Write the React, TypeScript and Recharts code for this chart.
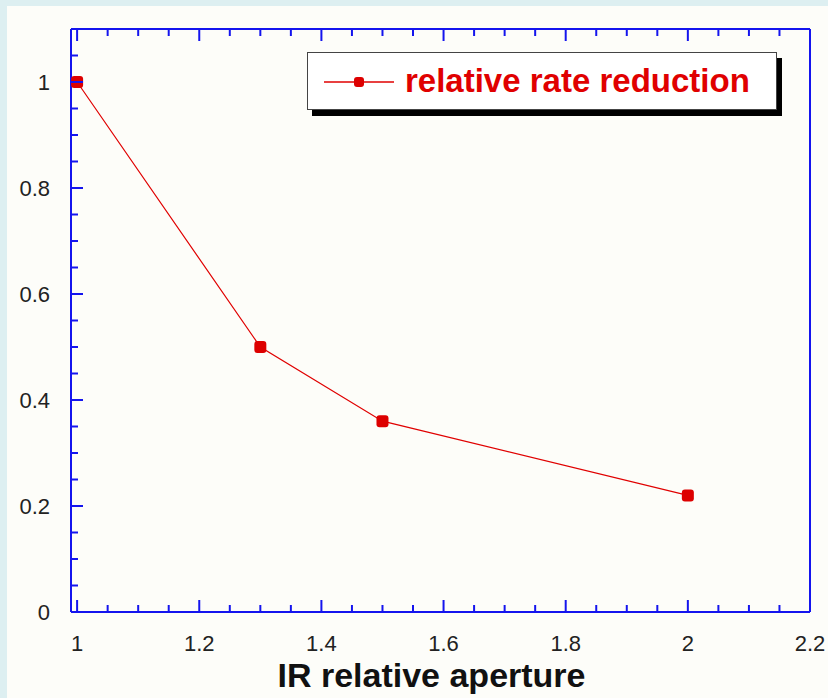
import React from 'react';
import { LineChart, Line, XAxis, YAxis, Legend } from 'recharts';

// measured points
const APERTURE = [1, 1.3, 1.5, 2];
const RATE_REDUCTION = [1.0, 0.5, 0.36, 0.22];
const SERIES_NAME = 'relative rate reduction';
const X_TITLE = 'IR relative aperture';

const X_TICKS = [
  1, 1.05, 1.1, 1.15, 1.2, 1.25, 1.3, 1.35, 1.4, 1.45, 1.5, 1.55, 1.6,
  1.65, 1.7, 1.75, 1.8, 1.85, 1.9, 1.95, 2, 2.05, 2.1, 2.15, 2.2,
];
const X_LABELS = [1, 1.2, 1.4, 1.6, 1.8, 2, 2.2];
const Y_TICKS = [
  0, 0.05, 0.1, 0.15, 0.2, 0.25, 0.3, 0.35, 0.4, 0.45, 0.5, 0.55, 0.6,
  0.65, 0.7, 0.75, 0.8, 0.85, 0.9, 0.95, 1, 1.05, 1.1,
];
const Y_LABELS = [0, 0.2, 0.4, 0.6, 0.8, 1];

const data = APERTURE.map((x, i) => ({ x, y: RATE_REDUCTION[i] }));

const BLUE = '#1414ee';
const RED = '#e00000';
const FONT = '"Liberation Sans", Arial, sans-serif';
const MAJOR = 12;
const MINOR = 7;

const isMajor = (list: number[], v: number) => list.some((l) => Math.abs(l - v) < 1e-9);

const BottomTick = (props: any) => {
  const { x, y, payload } = props;
  const major = isMajor(X_LABELS, payload.value);
  return (
    <g>
      <line x1={x} x2={x} y1={y} y2={y - (major ? MAJOR : MINOR)} stroke={BLUE} strokeWidth={2} />
      {major && (
        <text x={x} y={y + 39} textAnchor="middle" fontSize={22} fill="#222" fontFamily={FONT}>
          {payload.value}
        </text>
      )}
    </g>
  );
};

const TopTick = (props: any) => {
  const { x, y, payload } = props;
  const major = isMajor(X_LABELS, payload.value);
  return <line x1={x} x2={x} y1={y} y2={y + (major ? MAJOR : MINOR)} stroke={BLUE} strokeWidth={2} />;
};

const LeftTick = (props: any) => {
  const { x, y, payload } = props;
  const major = isMajor(Y_LABELS, payload.value);
  return (
    <g>
      <line x1={x} x2={x + (major ? MAJOR : MINOR)} y1={y} y2={y} stroke={BLUE} strokeWidth={2} />
      {major && (
        <text x={x - 21} y={y} dy="0.36em" textAnchor="end" fontSize={22} fill="#222" fontFamily={FONT}>
          {payload.value}
        </text>
      )}
    </g>
  );
};

const RightTick = (props: any) => {
  const { x, y, payload } = props;
  const major = isMajor(Y_LABELS, payload.value);
  return <line x1={x} x2={x - (major ? MAJOR : MINOR)} y1={y} y2={y} stroke={BLUE} strokeWidth={2} />;
};

const SquareDot = (props: any) => {
  const { cx, cy, index } = props;
  return <rect key={`dot-${index}`} x={cx - 6} y={cy - 6} width={12} height={12} rx={3} fill="#dd0000" />;
};

const LegendBox = () => (
  <div
    style={{
      width: 468,
      height: 56,
      border: '1px solid #444',
      background: '#fff',
      boxShadow: '5px 6px 0 #000',
      position: 'relative',
    }}
  >
    <svg width={90} height={56} style={{ position: 'absolute', left: 0, top: 0 }}>
      <line x1={16} x2={86} y1={29} y2={29} stroke={RED} strokeWidth={1.5} />
      <rect x={46} y={24} width={10} height={10} rx={3} fill="#dd0000" />
    </svg>
    <span
      style={{
        position: 'absolute',
        left: 97,
        top: 8,
        fontFamily: FONT,
        fontWeight: 700,
        fontSize: 33,
        lineHeight: '40px',
        color: RED,
        whiteSpace: 'nowrap',
      }}
    >
      {SERIES_NAME}
    </span>
  </div>
);

const TitleLabel = (props: any) => {
  const { viewBox } = props;
  return (
    <text
      x={viewBox.x + viewBox.width / 2 - 9}
      y={viewBox.y + 75}
      textAnchor="middle"
      fontSize={34}
      fontWeight={700}
      fill="#111"
      fontFamily={FONT}
    >
      {X_TITLE}
    </text>
  );
};

export default function App() {
  return (
    <div style={{ position: 'absolute', left: 0, top: 0, width: 828, height: 698, background: '#ddeff1' }}>
      <div style={{ position: 'absolute', left: 7, top: 6, width: 821, height: 692, background: '#fdfdf9' }} />
      <div style={{ position: 'absolute', left: 0, top: 0 }}>
        <LineChart width={828} height={698} data={data} margin={{ top: 19, right: 8, bottom: 0, left: 0 }}>
          <XAxis
            xAxisId="bottom"
            dataKey="x"
            type="number"
            domain={[0.99, 2.2]}
            ticks={X_TICKS}
            interval={0}
            height={86}
            tickSize={0}
            tickMargin={0}
            tickLine={false}
            axisLine={{ stroke: BLUE, strokeWidth: 2 }}
            tick={BottomTick}
            label={<TitleLabel />}
          />
          <XAxis
            xAxisId="top"
            orientation="top"
            dataKey="x"
            type="number"
            domain={[0.99, 2.2]}
            ticks={X_TICKS}
            interval={0}
            height={10}
            tickSize={0}
            tickMargin={0}
            tickLine={false}
            axisLine={{ stroke: BLUE, strokeWidth: 2 }}
            tick={TopTick}
          />
          <YAxis
            yAxisId="left"
            type="number"
            domain={[0, 1.1]}
            ticks={Y_TICKS}
            interval={0}
            width={71}
            tickSize={0}
            tickMargin={0}
            tickLine={false}
            axisLine={{ stroke: BLUE, strokeWidth: 2 }}
            tick={LeftTick}
          />
          <YAxis
            yAxisId="right"
            orientation="right"
            type="number"
            domain={[0, 1.1]}
            ticks={Y_TICKS}
            interval={0}
            width={10}
            tickSize={0}
            tickMargin={0}
            tickLine={false}
            axisLine={{ stroke: BLUE, strokeWidth: 2 }}
            tick={RightTick}
          />
          <Legend
            layout="horizontal"
            align="center"
            verticalAlign="middle"
            content={<LegendBox />}
            wrapperStyle={{ position: 'absolute', left: 307, top: 52, width: 'auto' }}
          />
          <Line
            xAxisId="bottom"
            yAxisId="left"
            dataKey="y"
            name={SERIES_NAME}
            stroke={RED}
            strokeWidth={1.2}
            dot={<SquareDot />}
            activeDot={false}
            isAnimationActive={false}
          />
        </LineChart>
      </div>
    </div>
  );
}
